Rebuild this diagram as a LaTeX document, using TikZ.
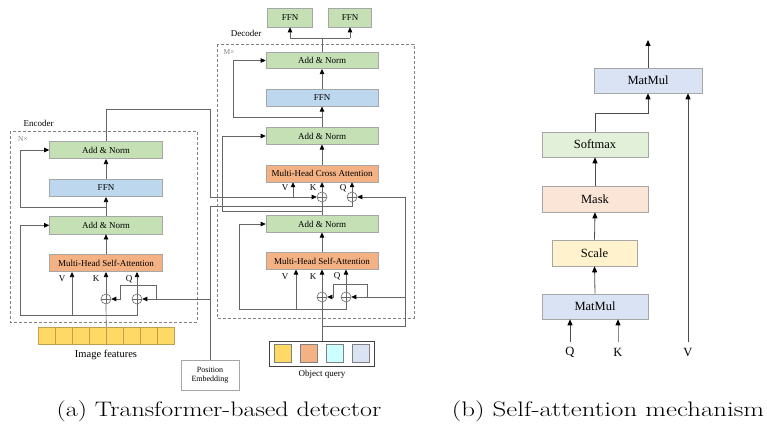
\documentclass[tikz,border=0pt]{standalone}
\usepackage{fontspec}
\usepackage{graphicx}
\newfontfamily\tms{Liberation Serif}
\usetikzlibrary{arrows.meta}
\definecolor{gfill}{HTML}{C5E0B4}
\definecolor{bfill}{HTML}{BDD7EE}
\definecolor{ofill}{HTML}{F4B183}
\definecolor{yfill}{HTML}{FFD966}
\definecolor{cfill}{HTML}{CCFFFF}
\definecolor{lfill}{HTML}{DAE3F3}
\definecolor{bgreen}{HTML}{E2F0D9}
\definecolor{bpeach}{HTML}{FBE5D6}
\definecolor{byellow}{HTML}{FFF2CC}
\definecolor{bordc}{HTML}{A6A6A6}
\definecolor{linec}{HTML}{666666}
\definecolor{cellb}{HTML}{C0A050}
\tikzset{
 blk/.style={draw=bordc, line width=0.6pt, inner sep=0pt, font=\tms\fontsize{9}{10}\selectfont},
 encblk/.style={blk, minimum width=113pt, minimum height=17.5pt},
 decblk/.style={blk, minimum width=112pt, minimum height=16.5pt},
 conn/.style={draw=linec, line width=0.65pt},
 arr/.style={conn, -{Triangle[length=5pt,width=4.5pt,color=black]}},
 oplus/.style={circle, draw=linec, line width=0.6pt, fill=white, inner sep=0pt, minimum size=10pt,
   path picture={\draw[linec, line width=0.6pt] (path picture bounding box.north) -- (path picture bounding box.south) (path picture bounding box.west) -- (path picture bounding box.east);}},
 lbl/.style={font=\tms\fontsize{9}{10}\selectfont, inner sep=0pt},
 frame/.style={draw=gray, line width=0.6pt, dash pattern=on 3pt off 2pt},
 cell/.style={draw=cellb, line width=0.5pt, minimum width=17pt, minimum height=17pt, inner sep=0pt},
 qcell/.style={draw=gray, line width=0.6pt, minimum width=17.5pt, minimum height=18pt, inner sep=0pt},
 bblk/.style={draw=bordc, line width=0.6pt, minimum height=25pt, inner sep=0pt, font=\tms\fontsize{12.5}{14}\selectfont},
 barr/.style={draw=black!70, line width=0.8pt, -{Triangle[length=6pt,width=5pt,color=black]}},
 blbl/.style={font=\tms\fontsize{12.5}{14}\selectfont, inner sep=0pt},
 captxt/.style={font=\fontsize{21}{24}\selectfont\addfontfeatures{FakeBold=0.4}, inner sep=0pt},
}
\begin{document}
\begin{tikzpicture}[x=1pt,y=-1pt]
\useasboundingbox (0,0) rectangle (767,430);
% ---------------- Encoder ----------------
\draw[frame] (10,131) rectangle (197,322);
\node[lbl] (encl) at (38.5,123) {Encoder};
\node[lbl, font=\tms\fontsize{7.5}{8}\selectfont, text=gray] (nx) at (23,139) {N×};
\node[encblk, fill=gfill] (eAN2) at (106,150) {Add \& Norm};
\node[encblk, fill=bfill] (eFFN) at (106,188) {FFN};
\node[encblk, fill=gfill] (eAN1) at (106,225.3) {Add \& Norm};
\node[encblk, fill=ofill] (eMHSA) at (106,263) {Multi-Head Self-Attention};
\node[lbl] (eVl) at (62,279) {V};
\node[lbl] (eKl) at (96,279) {K};
\node[lbl] (eQl) at (129,279) {Q};
\node[oplus] (eK) at (106,299) {};
\node[oplus] (eQ) at (137,299) {};
\foreach \i in {0,...,7} \node[cell, fill=yfill] (if\i) at (46.5+17*\i,335.5) {};
\node[lbl, font=\tms\fontsize{10.5}{12}\selectfont] (ifl) at (106,355) {Image features};
\node[draw=bordc, line width=0.6pt, minimum width=58pt, minimum height=30pt, inner sep=0pt, align=center, font=\tms\fontsize{8}{9.5}\selectfont] (pe) at (210,375) {Position\\Embedding};
% encoder connectors
\coordinate (eBusL) at (20,315);
\coordinate (eBusR) at (137,315);
\coordinate (eVb) at (72,315);
\draw[conn] (if3.north east) -- (eK.south);
\draw[arr] (eK.north) -- (eK.north |- eMHSA.south);
\draw[conn] (eBusL) -- (eBusR) -- (eQ.south);
\draw[arr] (eQ.north) -- (eQ.north |- eMHSA.south);
\draw[arr] (eVb) -- (eVb |- eMHSA.south);
\draw[arr] (eBusL) |- (eAN1.west);
\draw[arr] (eMHSA.north) -- (eAN1.south);
\draw[arr] (eAN1.north) -- (eFFN.south);
\coordinate (eR2) at (106,207);
\coordinate (eR2L) at (20,207);
\draw[arr] (eR2) -- (eR2L) |- (eAN2.west);
\draw[arr] (eFFN.north) -- (eAN2.south);
% position embedding
\coordinate (peE) at (210,299);
\coordinate (pb0) at (156,299);
\coordinate (pb1) at (156,285);
\coordinate (pb2) at (120,285);
\coordinate (pb3) at (120,299);
\draw[arr] (peE) -- (eQ.east);
\draw[arr] (pb0) -- (pb1) -- (pb2) -- (pb3) -- (eK.east);
% ---------------- Decoder ----------------
\draw[frame] (217,44) rectangle (414,318);
\node[lbl] (decl) at (246,33) {Decoder};
\node[lbl, font=\tms\fontsize{7.5}{8}\selectfont, text=gray] (mx) at (229,52) {M×};
\node[blk, fill=gfill, minimum width=45pt, minimum height=19pt] (f1) at (290,17.5) {FFN};
\node[blk, fill=gfill, minimum width=43pt, minimum height=19pt] (f2) at (350,17.5) {FFN};
\node[decblk, fill=gfill] (dAN3) at (322,60.5) {Add \& Norm};
\node[decblk, fill=bfill] (dFFN) at (322,98) {FFN};
\node[decblk, fill=gfill] (dAN2) at (322,136) {Add \& Norm};
\node[decblk, fill=ofill] (dMHCA) at (322,173.7) {Multi-Head Cross Attention};
\node[lbl] (cVl) at (285,188) {V};
\node[lbl] (cKl) at (313,188) {K};
\node[lbl] (cQl) at (343,188) {Q};
\node[oplus] (cK) at (322,197) {};
\node[oplus] (cQ) at (352,197) {};
\node[decblk, fill=gfill] (dAN1) at (322,224) {Add \& Norm};
\node[decblk, fill=ofill] (dMHSA) at (322,261) {Multi-Head Self-Attention};
\node[lbl] (sVl) at (285,276.5) {V};
\node[lbl] (sKl) at (313,276.5) {K};
\node[lbl] (sQl) at (337,276.5) {Q};
\node[oplus] (sK) at (322,297) {};
\node[oplus] (sQ) at (346,297) {};
\node[draw=black!75, line width=1pt, minimum width=105pt, minimum height=25pt, inner sep=0pt] (oq) at (322,353.5) {};
\node[qcell, fill=yfill] (q0) at (283,353) {};
\node[qcell, fill=ofill] (q1) at (309,353) {};
\node[qcell, fill=cfill] (q2) at (335,353) {};
\node[qcell, fill=lfill] (q3) at (361,353) {};
\node[lbl] (oql) at (322,374.5) {Object query};
% encoder output to decoder
\coordinate (eo1) at (106,109);
\coordinate (eo2) at (210,109);
\coordinate (cVb) at (293,197);
\draw[arr] (eAN2.north) -- (eo1) -- (eo2) |- (cK.west);
\draw[arr] (cVb) -- (cVb |- dMHCA.south);
% position embedding to cross attention
\coordinate (pe1) at (210,206);
\coordinate (pe2) at (352,206);
\draw[conn] (pe.north) -- (pe1) -- (pe2) -- (cQ.south);
% decoder connectors
\draw[conn] (oq.north) -- (sK.south);
\draw[arr] (sK.north) -- (sK.north |- dMHSA.south);
\coordinate (dBusL) at (239,309);
\coordinate (dBusR) at (346,309);
\coordinate (dVb) at (296,309);
\draw[conn] (dBusL) -- (dBusR) -- (sQ.south);
\draw[arr] (sQ.north) -- (sQ.north |- dMHSA.south);
\draw[arr] (dVb) -- (dVb |- dMHSA.south);
\draw[arr] (dBusL) |- (dAN1.west);
\coordinate (qp0) at (322,326);
\coordinate (qp1) at (405,326);
\coordinate (qp2) at (405,297);
\draw[arr] (qp0) -- (qp1) |- (cQ.east);
\draw[arr] (qp2) -- (sQ.east);
\coordinate (qb0) at (367,297);
\coordinate (qb1) at (367,284);
\coordinate (qb2) at (333,284);
\coordinate (qb3) at (333,297);
\draw[arr] (qb0) -- (qb1) -- (qb2) -- (qb3) -- (sK.east);
\draw[arr] (dMHSA.north) -- (dAN1.south);
\draw[conn] (dAN1.north) -- (cK.south);
\coordinate (dr1) at (322,211);
\coordinate (dr1L) at (222,211);
\draw[arr] (dr1) -- (dr1L) |- (dAN2.west);
\draw[arr] (cK.north) -- (cK.north |- dMHCA.south);
\draw[arr] (cQ.north) -- (cQ.north |- dMHCA.south);
\draw[arr] (dMHCA.north) -- (dAN2.south);
\draw[arr] (dAN2.north) -- (dFFN.south);
\coordinate (dr2) at (322,117);
\coordinate (dr2L) at (233,117);
\draw[arr] (dr2) -- (dr2L) |- (dAN3.west);
\draw[arr] (dFFN.north) -- (dAN3.south);
\coordinate (dt) at (322,38);
\coordinate (dtL) at (290,38);
\coordinate (dtR) at (350,38);
\draw[conn] (dAN3.north) -- (dt);
\draw[conn] (dtL) -- (dtR);
\draw[arr] (dtL) -- (f1.south);
\draw[arr] (dtR) -- (f2.south);
% ---------------- (b) Self-attention ----------------
\node[bblk, fill=lfill, minimum width=108pt] (bMM2) at (648,80.5) {MatMul};
\node[bblk, fill=bgreen, minimum width=106pt] (bSoft) at (595,144.5) {Softmax};
\node[bblk, fill=bpeach, minimum width=106pt, minimum height=26pt] (bMask) at (595,199) {Mask};
\node[bblk, fill=byellow, minimum width=85pt, minimum height=26pt] (bScale) at (594.5,253) {Scale};
\node[bblk, fill=lfill, minimum width=106pt] (bMM1) at (595,306.5) {MatMul};
\node[blbl] (bQl) at (570,352) {Q};
\node[blbl] (bKl) at (618,352) {K};
\node[blbl] (bVl) at (688,352) {V};
\coordinate (bQ) at (570,342);
\coordinate (bK) at (618,342);
\coordinate (bV) at (688,342);
\coordinate (bout) at (648,40);
\coordinate (bs1) at (595,113);
\coordinate (bs2) at (648,113);
\draw[barr] (bQ) -- (bQ |- bMM1.south);
\draw[barr, draw=black!45] (bK) -- (bK |- bMM1.south);
\draw[barr] (bV) -- (bV |- bMM2.south);
\draw[barr] (bMM1.north) -- (bScale.south);
\draw[barr] (bScale.north) -- (bMask.south);
\draw[barr] (bMask.north) -- (bSoft.south);
\draw[barr] (bSoft.north) -- (bs1) -- (bs2) -- (bMM2.south);
\draw[barr] (bMM2.north) -- (bout);
% captions
\node[captxt] (capa) at (219,411) {\scalebox{1.24}[1]{(a) Transformer-based detector}};
\node[captxt] (capb) at (608,411) {\scalebox{1.28}[1]{(b) Self-attention mechanism}};
\end{tikzpicture}
\end{document}
